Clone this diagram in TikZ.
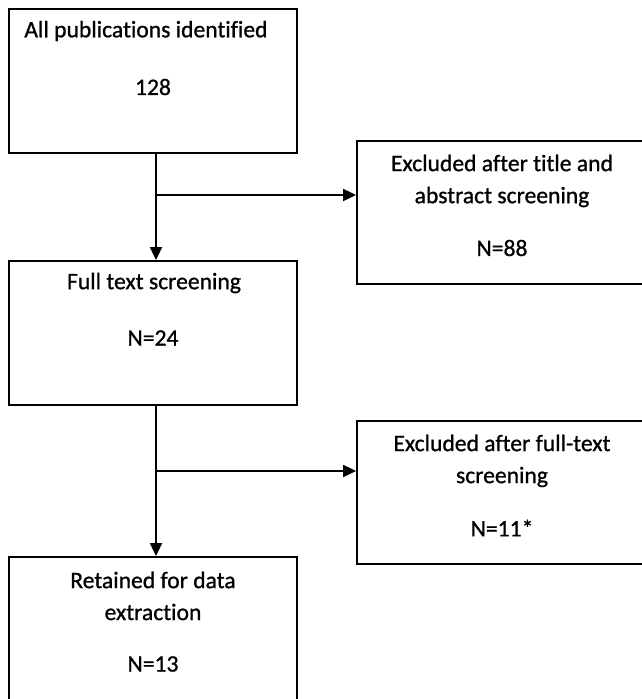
\documentclass[tikz,border=0pt]{standalone}
\usepackage{fontspec}
\setmainfont{Carlito}[RawFeature={-liga;-clig}]
\newfontfamily\lblfont{Carlito}[RawFeature={-liga;-clig},FakeBold=0.9,BoldFont=Carlito,BoldFeatures={FakeBold=0.9}]
\usetikzlibrary{arrows.meta}
\begin{document}
\begin{tikzpicture}[x=1pt,y=-1pt,
  box/.style={draw=black,line width=1.8pt,rectangle,inner sep=0pt,minimum width=288pt,minimum height=144pt},
  rbox/.style={box,minimum width=290pt,minimum height=143pt},
  lbl/.style={inner sep=0pt,font=\lblfont\bfseries\fontsize{23.6pt}{28pt}\selectfont,text=black},
  arr/.style={line width=1.8pt,-{Triangle[length=13pt,width=12pt]}}]
\useasboundingbox (0,0) rectangle (642,699);
\fill[white] (0,0) rectangle (642,699);
\clip (0,0) rectangle (642,699);
% boxes
\node[box] (b1) at (153,81) {};
\node[rbox] (b2) at (502,212.5) {};
\node[box] (b3) at (153,333) {};
\node[rbox] (b4) at (502,492.5) {};
\node[box] (b5) at (153,629) {};
% texts
\node[lbl] (t1a) at (146,31) {All publications identified};
\node[lbl] (t1b) at (153,87) {128};
\node[lbl] (t2a) at (502,163) {Excluded after title and};
\node[lbl] (t2b) at (502,197) {abstract screening};
\node[lbl] (t2c) at (502,248) {N=88};
\node[lbl] (t3a) at (154,283) {Full text screening};
\node[lbl] (t3b) at (153,338) {N=24};
\node[lbl] (t4a) at (502,443) {Excluded after full-text};
\node[lbl] (t4b) at (502,477) {screening};
\node[lbl] (t4c) at (502,528) {N=11*};
\node[lbl] (t5a) at (153,580) {Retained for data};
\node[lbl] (t5b) at (153,612) {extraction};
\node[lbl] (t5c) at (153,664) {N=13};
% connectors
\coordinate (j1) at (156,195);
\coordinate (j2) at (156,471);
\draw[line width=1.8pt] (b1.south -| j1) -- (j1);
\draw[arr] (j1) -- (b3.north -| j1);
\draw[arr] (j1) -- (j1 -| b2.west);
\draw[line width=1.8pt] (b3.south -| j2) -- (j2);
\draw[arr] (j2) -- (b5.north -| j2);
\draw[arr] (j2) -- (j2 -| b4.west);
\end{tikzpicture}
\end{document}
